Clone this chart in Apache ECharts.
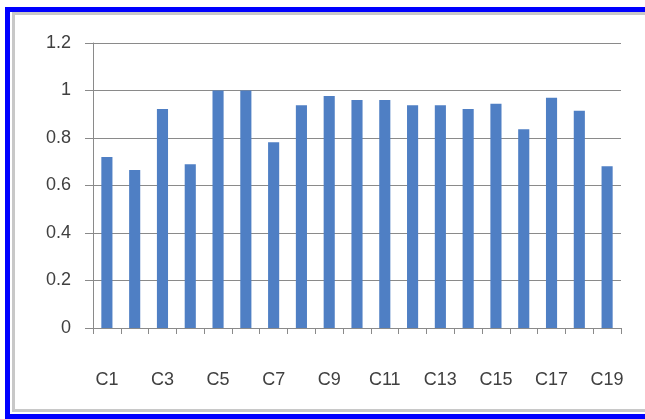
<!DOCTYPE html>
<html>
<head>
<meta charset="utf-8">
<script src="https://cdn.jsdelivr.net/npm/echarts@6/dist/echarts.min.js"></script>
<style>
  html, body { margin: 0; padding: 0; background: #ffffff; }
  #chart { width: 645px; height: 419px; }
</style>
</head>
<body>
<div id="chart"></div>
<script>
// Category names C1..C19
const categories = ['C1', 'C2', 'C3', 'C4', 'C5', 'C6', 'C7', 'C8', 'C9', 'C10',
                    'C11', 'C12', 'C13', 'C14', 'C15', 'C16', 'C17', 'C18', 'C19'];
// Bar values per category
const values = [0.72, 0.665, 0.922, 0.689, 1.0, 1.0, 0.782, 0.938, 0.977, 0.96,
                0.96, 0.938, 0.938, 0.922, 0.944, 0.837, 0.97, 0.915, 0.681];
// Value axis range
const yMin = 0, yMax = 1.2, yStep = 0.2;

const chart = echarts.init(document.getElementById('chart'));
const textColor = '#404040';
const lineColor = '#8a8a8a';
const fontFamily = '"Liberation Sans", Arial, sans-serif';

chart.setOption({
  animation: false,
  graphic: [
    {
      type: 'rect', z: -10, silent: true,
      shape: { x: 7.5, y: 9.5, width: 700, height: 407 },
      style: { fill: 'none', stroke: '#0000ff', lineWidth: 5 }
    },
    {
      type: 'rect', z: -10, silent: true,
      shape: { x: 13.5, y: 13.5, width: 700, height: 397 },
      style: { fill: 'none', stroke: '#c8c8c8', lineWidth: 3 }
    }
  ],
  grid: { left: 93, right: 24, top: 43, bottom: 91, containLabel: false },
  xAxis: {
    type: 'category',
    data: categories,
    boundaryGap: true,
    axisLine: { show: true, lineStyle: { color: lineColor, width: 1 } },
    axisTick: { show: true, interval: 0, alignWithLabel: false, length: 6,
                lineStyle: { color: lineColor } },
    axisLabel: { interval: 1, margin: 43, color: textColor, fontSize: 18,
                 fontFamily: fontFamily },
    splitLine: { show: false }
  },
  yAxis: {
    type: 'value',
    min: yMin, max: yMax, interval: yStep,
    axisLine: { show: true, lineStyle: { color: lineColor, width: 1 } },
    axisTick: { show: true, length: 8, lineStyle: { color: lineColor } },
    axisLabel: { margin: 22, color: textColor, fontSize: 18, fontFamily: fontFamily,
                 formatter: v => String(Math.round(v * 10) / 10) },
    splitLine: { show: true, lineStyle: { color: lineColor, width: 1 } }
  },
  series: [{
    type: 'bar',
    data: values,
    barWidth: '40%',
    itemStyle: { color: '#4f7fc4' }
  }]
});
</script>
</body>
</html>
